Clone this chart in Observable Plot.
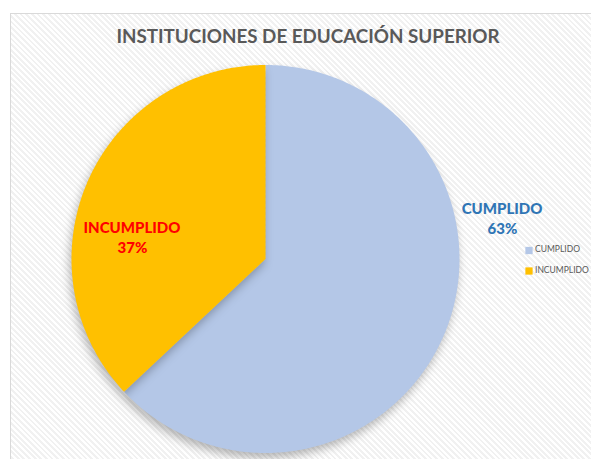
<!DOCTYPE html>
<html>
<head>
<meta charset="utf-8">
<script src="https://cdn.jsdelivr.net/npm/d3@7"></script>
<script src="https://cdn.jsdelivr.net/npm/@observablehq/plot@0.6"></script>
<style>
  html, body { margin: 0; padding: 0; background: #fff; overflow: hidden; }
  #wrap { position: relative; width: 591px; height: 459px; overflow: hidden; }
  #bg { position: absolute; left: 10px; top: 13px; width: 700px; height: 600px;
        border: 1px solid #d9d9d9;
        background: repeating-linear-gradient(45deg, #ffffff 0px, #ffffff 2px, #f1f1f1 2px, #f1f1f1 4px); }
  #chart { position: absolute; left: 0; top: 0; }
  .slices path { filter: drop-shadow(-2px 5px 5px rgba(0,0,0,0.28)); }
</style>
</head>
<body>
<div id="wrap"><div id="bg"></div><div id="chart"></div></div>
<script>
const title = "INSTITUCIONES DE EDUCACIÓN SUPERIOR";
const categories = ["CUMPLIDO", "INCUMPLIDO"];
const values = [63, 37];
const colors = ["#B4C7E7", "#FFC000"];
const labelColors = ["#2F75B5", "#FF0000"];

// pie geometry from the data (unit circle, y up, clockwise from top)
const arcs = d3.pie().sort(null).value(d => d)(values);
const rows = [];
arcs.forEach((a, i) => {
  const cat = categories[i];
  rows.push({cat, x: 0, y: 0});
  const n = Math.max(2, Math.ceil((a.endAngle - a.startAngle) / 0.01));
  for (let k = 0; k <= n; k++) {
    const t = a.startAngle + (a.endAngle - a.startAngle) * k / n;
    rows.push({cat, x: Math.sin(t), y: Math.cos(t)});
  }
});

const font = "Lato, 'Open Sans', sans-serif";
const total = d3.sum(values);
const pct = values.map(v => Math.round(v / total * 100) + "%");

const plot = Plot.plot({
  width: 591, height: 459,
  marginLeft: 71, marginRight: 132, marginTop: 64.5, marginBottom: 6.5,
  x: {domain: [-1, 1], axis: null},
  y: {domain: [-1, 1], axis: null},
  color: {domain: categories, range: colors},
  style: {background: "transparent", fontFamily: font, overflow: "visible"},
  marks: [
    Plot.line(rows, {x: "x", y: "y", z: "cat", fill: "cat", stroke: null, className: "slices"}),
    Plot.text([title], {frameAnchor: "top-left", dx: 236.5, dy: -28, text: d => d, textAnchor: "middle", lineAnchor: "middle", fontSize: 18.8, fontWeight: "bold", fill: "#595959"}),
    Plot.text([categories[0]], {frameAnchor: "top-left", dx: 430.5, dy: 144, text: d => d, textAnchor: "middle", lineAnchor: "middle", fontSize: 15, fontWeight: 900, fill: labelColors[0]}),
    Plot.text([pct[0]], {frameAnchor: "top-left", dx: 431, dy: 164.5, text: d => d, textAnchor: "middle", lineAnchor: "middle", fontSize: 15, fontWeight: 900, fill: labelColors[0]}),
    Plot.text([categories[1]], {frameAnchor: "top-left", dx: 60.5, dy: 163, text: d => d, textAnchor: "middle", lineAnchor: "middle", fontSize: 15, fontWeight: 900, fill: labelColors[1]}),
    Plot.text([pct[1]], {frameAnchor: "top-left", dx: 61, dy: 183.5, text: d => d, textAnchor: "middle", lineAnchor: "middle", fontSize: 15, fontWeight: 900, fill: labelColors[1]}),
    ...categories.map((c, i) => Plot.dot([c], {frameAnchor: "top-left", dx: 457.5, dy: 185.5 + i * 20.5, symbol: "square", r: 4.1, fill: colors[i], stroke: null})),
    ...categories.map((c, i) => Plot.text([c], {frameAnchor: "top-left", dx: 463.5, dy: 184.5 + i * 20.5, text: d => d, textAnchor: "start", lineAnchor: "middle", fontSize: 8.5, fill: "#595959"}))
  ]
});
document.getElementById("chart").appendChild(plot);
</script>
</body>
</html>
